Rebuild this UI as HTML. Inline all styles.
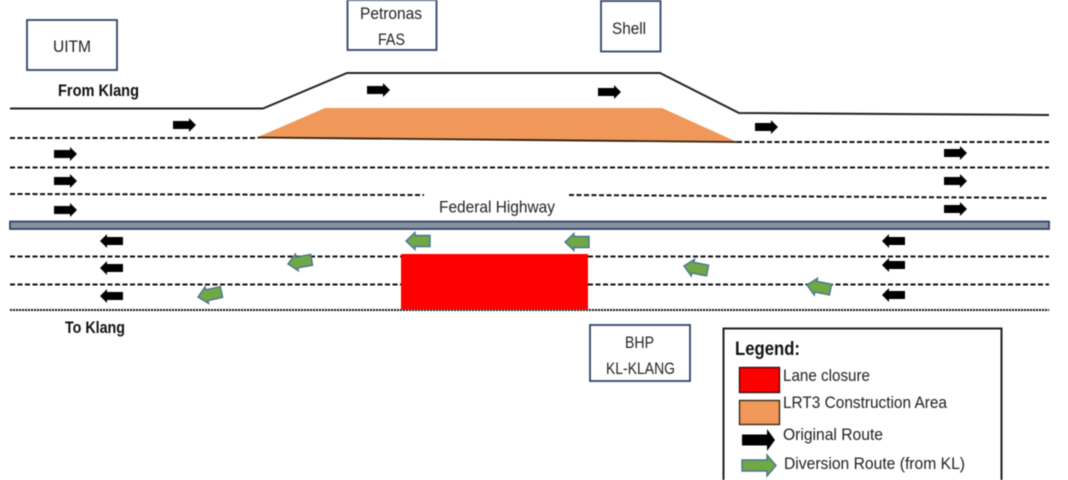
<!DOCTYPE html>
<html>
<head>
<meta charset="utf-8">
<style>
html,body{margin:0;padding:0;background:#fff;width:1068px;height:480px;overflow:hidden}
svg{display:block;filter:blur(0.45px)}
text{font-family:"Liberation Sans",sans-serif;fill:#222;font-size:16.500px}
.b{font-weight:bold;fill:#111}
</style>
</head>
<body>
<svg width="1068" height="480" viewBox="0 0 1068 480" xmlns="http://www.w3.org/2000/svg">
<defs>
<path id="r" d="M0 -4H16V-7L23 0L16 7V4H0Z" fill="#000"/>
<path id="l" d="M23 -4H7V-7L0 0L7 7V4H23Z" fill="#000"/>
<path id="g" d="M24 -5.500H9V-8.500L0 0L9 8.500V5.500H24Z" fill="#70a845" stroke="#4a7494" stroke-width="1.400"/>
</defs>

<!-- boxes -->
<g fill="#fff" stroke="#2f4468" stroke-width="1.800">
<rect x="27" y="20" width="90" height="50"/>
<rect x="347.500" y="0" width="89" height="50"/>
<rect x="601" y="1" width="59.500" height="50.500"/>
<rect x="590" y="325" width="100" height="56"/>
</g>
<text x="53" y="52" textLength="38" lengthAdjust="spacingAndGlyphs">UITM</text>
<text x="360" y="19" textLength="62" lengthAdjust="spacingAndGlyphs">Petronas</text>
<text x="378" y="45" textLength="27" lengthAdjust="spacingAndGlyphs">FAS</text>
<text x="612" y="34" textLength="34" lengthAdjust="spacingAndGlyphs">Shell</text>
<text x="625" y="348" textLength="29" lengthAdjust="spacingAndGlyphs">BHP</text>
<text x="606" y="374" textLength="69" lengthAdjust="spacingAndGlyphs">KL-KLANG</text>

<!-- road edge -->
<polyline points="10,108.500 263,108.500 347,73 660,73 739,113 1049,115" fill="none" stroke="#222" stroke-width="2"/>

<!-- construction area -->
<polygon points="258,137 325,108 662,108 737,142" fill="#f0985a"/>
<line x1="258" y1="137.500" x2="737" y2="142" stroke="#33200f" stroke-width="1.800"/>

<!-- dashed lanes -->
<g fill="none" stroke="#111" stroke-width="2" stroke-dasharray="5 2.500">
<line x1="10" y1="138" x2="258" y2="138"/>
<line x1="737" y1="142" x2="1049" y2="142"/>
<line x1="10" y1="167.500" x2="1049" y2="167.500"/>
<line x1="10" y1="194" x2="424" y2="195"/>
<line x1="569" y1="195" x2="1049" y2="198"/>
<line x1="10" y1="256.500" x2="401" y2="256.500"/>
<line x1="588" y1="256.500" x2="1049" y2="256.500"/>
<line x1="10" y1="284.500" x2="401" y2="284.500"/>
<line x1="588" y1="284.500" x2="1049" y2="284.500"/>
</g>
<line x1="10" y1="310" x2="1049" y2="310" stroke="#111" stroke-width="2" stroke-dasharray="2 1"/>

<!-- divider -->
<rect x="10" y="221.500" width="1039" height="7.500" fill="#87909e" stroke="#2f4468" stroke-width="1.800"/>

<!-- closure -->
<rect x="401" y="254" width="187" height="55.500" fill="#fe0000"/>

<!-- labels -->
<text class="b" x="58" y="96" textLength="81" lengthAdjust="spacingAndGlyphs">From Klang</text>
<text class="b" x="65" y="333" textLength="60" lengthAdjust="spacingAndGlyphs">To Klang</text>
<text x="439" y="212.500" textLength="116" lengthAdjust="spacingAndGlyphs">Federal Highway</text>

<!-- original route arrows -->
<use href="#r" x="173" y="125"/>
<use href="#r" x="54" y="154"/>
<use href="#r" x="54" y="181"/>
<use href="#r" x="54" y="210"/>
<use href="#r" x="367" y="90"/>
<use href="#r" x="598" y="92"/>
<use href="#r" x="755" y="127"/>
<use href="#r" x="944" y="153"/>
<use href="#r" x="944" y="181"/>
<use href="#r" x="944" y="209"/>
<use href="#l" x="100" y="241"/>
<use href="#l" x="100" y="268"/>
<use href="#l" x="100" y="296"/>
<use href="#l" x="882" y="241"/>
<use href="#l" x="882" y="265"/>
<use href="#l" x="882" y="295"/>

<!-- diversion arrows -->
<use href="#g" x="406" y="241"/>
<use href="#g" x="565" y="242"/>
<use href="#g" transform="translate(288,264) rotate(-10)"/>
<use href="#g" transform="translate(198,297) rotate(-12)"/>
<use href="#g" transform="translate(684,266) rotate(11)"/>
<use href="#g" transform="translate(807,285) rotate(11)"/>

<!-- legend -->
<rect x="723.500" y="328.500" width="278" height="160" fill="#fff" stroke="#222" stroke-width="2"/>
<text class="b" x="735" y="355" style="font-size:19px" textLength="65" lengthAdjust="spacingAndGlyphs">Legend:</text>
<rect x="739.500" y="367.500" width="40" height="25" fill="#fe0000" stroke="#3a1010" stroke-width="1.400"/>
<rect x="739.500" y="400.500" width="40" height="24" fill="#f0985a" stroke="#3a2a1a" stroke-width="1.400"/>
<path d="M742 434.500H767V429L775 440L767 451V445.500H742Z" fill="#000"/>
<path d="M742 460H767V455L776 465.500L767 476V471H742Z" fill="#70a845" stroke="#4a7494" stroke-width="1.400"/>
<text x="783" y="381" textLength="87" lengthAdjust="spacingAndGlyphs">Lane closure</text>
<text x="783" y="408" textLength="164" lengthAdjust="spacingAndGlyphs">LRT3 Construction Area</text>
<text x="783" y="440" textLength="100" lengthAdjust="spacingAndGlyphs">Original Route</text>
<text x="784" y="469" textLength="181" lengthAdjust="spacingAndGlyphs">Diversion Route (from KL)</text>
</svg>
</body>
</html>
